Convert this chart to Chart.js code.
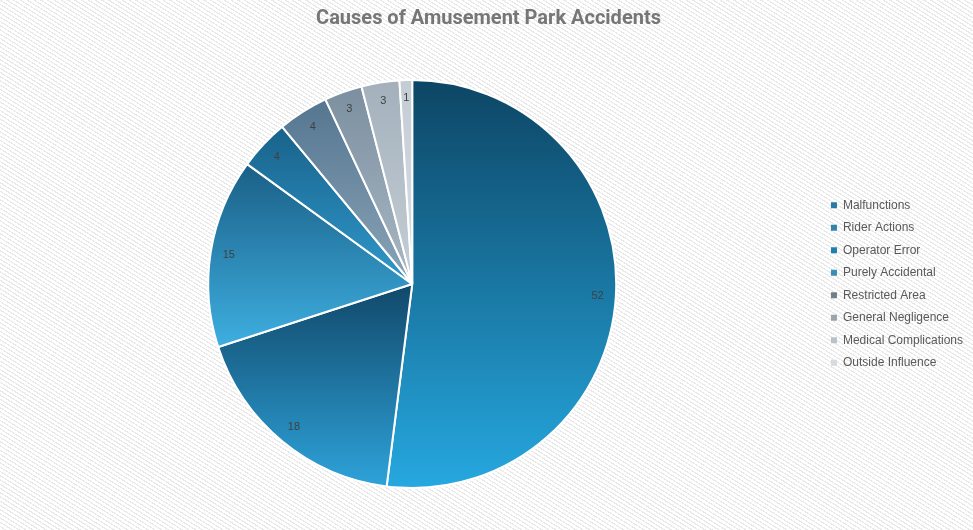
<!DOCTYPE html>
<html>
<head>
<meta charset="utf-8">
<script src="https://cdn.jsdelivr.net/npm/chart.js@4"></script>
<style>
  html, body { margin: 0; padding: 0; }
  body {
    width: 973px; height: 530px; overflow: hidden;
    background: repeating-linear-gradient(32deg, #ffffff 0px, #ffffff 2.4px, #e9e9e9 2.4px, #e9e9e9 3.6px);
  }
  #wrap { position: relative; width: 973px; height: 530px; }
</style>
</head>
<body>
<div id="wrap"><canvas id="pieChart"></canvas></div>
<script>
// data
const causes = ['Malfunctions', 'Rider Actions', 'Operator Error', 'Purely Accidental',
                'Restricted Area', 'General Negligence', 'Medical Complications', 'Outside Influence'];
const accidents = [52, 18, 15, 4, 4, 3, 3, 1];

// colours (top of slice -> bottom of slice), legend swatches
const topColors = ['#0d4564', '#11486a', '#1a5f86', '#18628a', '#557590', '#7b8fa0', '#a3b0bb', '#c4ccd4'];
const bottomColors = ['#26a8e0', '#2ea3da', '#3eafe1', '#3099cc', '#8aa5b8', '#a9b8c4', '#c6cfd7', '#d9dfe4'];
const legendColors = ['#2a7aa6', '#2f86a8', '#1f80b0', '#3a8db4', '#707e88', '#9aa5ae', '#b9c2c9', '#d6dbe0'];

const total = accidents.reduce((a, b) => a + b, 0);

// vertical gradient over each slice's bounding box
function sliceGradient(context) {
  const chart = context.chart;
  const area = chart.chartArea;
  const i = context.dataIndex;
  if (!area || i === undefined) return legendColors[i] || '#888';
  const cx = (area.left + area.right) / 2;
  const cy = (area.top + area.bottom) / 2;
  const r = Math.min(area.right - area.left, area.bottom - area.top) / 2;
  let before = 0;
  for (let k = 0; k < i; k++) before += accidents[k];
  const a0 = -Math.PI / 2 + before / total * Math.PI * 2;
  const a1 = a0 + accidents[i] / total * Math.PI * 2;
  const ys = [cy, cy + Math.sin(a0) * r, cy + Math.sin(a1) * r];
  [-Math.PI / 2, Math.PI / 2, Math.PI * 1.5].forEach(a => {
    if (a > a0 && a < a1) ys.push(cy + Math.sin(a) * r);
  });
  const minY = Math.min(...ys), maxY = Math.max(...ys);
  const g = chart.ctx.createLinearGradient(0, minY, 0, maxY);
  g.addColorStop(0, topColors[i]);
  g.addColorStop(1, bottomColors[i]);
  return g;
}

// value labels near the outer edge
const valueLabels = {
  id: 'valueLabels',
  afterDatasetsDraw(chart) {
    const ctx = chart.ctx;
    const meta = chart.getDatasetMeta(0);
    ctx.save();
    ctx.font = '11px "Liberation Sans", Arial, sans-serif';
    ctx.fillStyle = '#404040';
    ctx.textAlign = 'center';
    ctx.textBaseline = 'middle';
    meta.data.forEach((arc, i) => {
      const mid = (arc.startAngle + arc.endAngle) / 2;
      const rr = arc.outerRadius * 0.91;
      ctx.fillText(accidents[i], arc.x + Math.cos(mid) * rr, arc.y + Math.sin(mid) * rr);
    });
    ctx.restore();
  }
};

const ctx = document.getElementById('pieChart').getContext('2d');
const chart = new Chart(ctx, {
  type: 'pie',
  data: {
    labels: causes,
    datasets: [{
      data: accidents,
      backgroundColor: sliceGradient,
      borderColor: '#ffffff',
      borderWidth: 2
    }]
  },
  options: {
    responsive: true,
    maintainAspectRatio: false,
    animation: false,
    layout: { padding: { top: 0, bottom: 41, left: 4, right: 0 } },
    plugins: {
      title: {
        display: true,
        text: 'Causes of Amusement Park Accidents',
        color: '#767676',
        font: { family: 'Roboto, "Liberation Sans", sans-serif', size: 20, weight: 'bold' },
        padding: { top: 7, bottom: 48 }
      },
      legend: {
        position: 'right',
        fullSize: false,
        labels: {
          color: '#595959',
          font: { family: '"Liberation Sans", Arial, sans-serif', size: 12 },
          boxWidth: 6,
          boxHeight: 6,
          padding: 10.5,
          generateLabels: (c) => causes.map((name, i) => ({
            text: name,
            fillStyle: legendColors[i],
            strokeStyle: legendColors[i],
            lineWidth: 0,
            fontColor: '#595959',
            hidden: false,
            index: i
          }))
        }
      },
      tooltip: { enabled: false }
    }
  },
  plugins: [valueLabels]
});
</script>
</body>
</html>
